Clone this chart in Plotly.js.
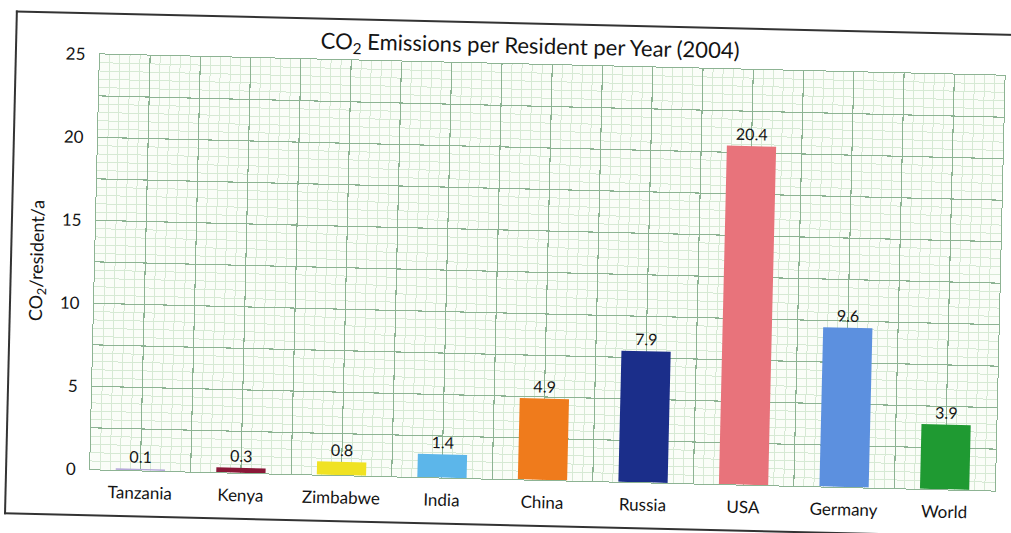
<!DOCTYPE html>
<html>
<head>
<meta charset="utf-8">
<script src="https://cdn.plot.ly/plotly-3.0.1.min.js"></script>
<style>
  html, body { margin: 0; padding: 0; background: #fff; overflow: hidden; }
  #sheet { position: absolute; left: 0; top: 0; width: 1011px; height: 533px;
           transform: rotate(1.35deg); transform-origin: 505px 266px; }
  #frame { position: absolute; left: 10px; top: 22px; width: 1060px; height: 500px;
           border-top: 2px solid #333; border-left: 2px solid #333; border-bottom: 2px solid #333; }
  #chart { position: absolute; left: 0; top: 0; width: 1011px; height: 533px; }
</style>
</head>
<body>
<div id="sheet"><div id="frame"></div><div id="chart"></div></div>
<script>
// CO2 emissions per resident per year, 2004 (tonnes)
const countries = ['Tanzania', 'Kenya', 'Zimbabwe', 'India', 'China', 'Russia', 'USA', 'Germany', 'World'];
const emissions = [0.1, 0.3, 0.8, 1.4, 4.9, 7.9, 20.4, 9.6, 3.9];
const barColors = ['#b5a8da', '#8a1838', '#f0e222', '#5cb6ea', '#ef7b1c', '#1b2e8a', '#e8737b', '#5c90df', '#1f9a32'];
const yTickLabels = ['0', '5', '10', '15', '20', '25'];

const FONT = 'Lato, "Open Sans", sans-serif';
const INK = '#141414';
const MAJOR = '#8db393';
const MINOR = '#d6e9d4';

// graph-paper grid: a heavy line at every bar centre and every slot edge
const xTickVals = [], xTickText = [];
for (let k = -1; k <= 2 * countries.length - 1; k++) {
  xTickVals.push(k / 2);
  xTickText.push(k % 2 === 0 && k >= 0 ? countries[k / 2] : ' ');
}
// heavy horizontal line every 2.5, labelled every 5
const yTickVals = [], yTickText = [];
for (let k = 0; k <= 2 * (yTickLabels.length - 1); k++) {
  yTickVals.push(k * 2.5);
  yTickText.push(k % 2 === 0 ? yTickLabels[k / 2] : ' ');
}

const trace = {
  type: 'bar',
  x: countries.map((c, i) => i),
  y: emissions,
  width: 0.49,
  marker: { color: barColors, line: { width: 0 } },
  text: emissions.map(v => v.toFixed(1)),
  textposition: 'outside',
  cliponaxis: false,
  textfont: { family: FONT, size: 16, color: INK },
  hoverinfo: 'skip'
};

const layout = {
  width: 1011, height: 533,
  margin: { l: 95, r: 11, t: 64, b: 54 },
  paper_bgcolor: 'rgba(0,0,0,0)',
  plot_bgcolor: '#fafdf8',
  showlegend: false,
  font: { family: FONT, color: INK },
  title: {
    text: 'CO<sub>2</sub> Emissions per Resident per Year (2004)',
    font: { family: FONT, size: 22, color: INK },
    x: 0.475, xanchor: 'center', xref: 'paper', y: 0.915, yanchor: 'middle'
  },
  xaxis: {
    range: [-0.5, countries.length - 0.5],
    tickmode: 'array', tickvals: xTickVals, ticktext: xTickText,
    ticks: '', ticklabelstandoff: 7,
    tickfont: { family: FONT, size: 17, color: INK },
    showgrid: true, gridcolor: MAJOR, gridwidth: 1.1,
    minor: { dtick: 0.1, tick0: -0.5, showgrid: true, gridcolor: MINOR, gridwidth: 1 },
    showline: true, linecolor: MAJOR, mirror: true, zeroline: false,
    fixedrange: true
  },
  yaxis: {
    range: [0, 25],
    tickmode: 'array', tickvals: yTickVals, ticktext: yTickText,
    ticks: '', ticklabelstandoff: 10,
    tickfont: { family: FONT, size: 17, color: INK },
    showgrid: true, gridcolor: MAJOR, gridwidth: 1.1,
    minor: { dtick: 0.5, tick0: 0, showgrid: true, gridcolor: MINOR, gridwidth: 1 },
    showline: true, linecolor: MAJOR, mirror: true, zeroline: false,
    title: { text: 'CO<sub>2</sub>/resident/a', font: { family: FONT, size: 18, color: INK }, standoff: 12 },
    fixedrange: true
  }
};

Plotly.newPlot('chart', [trace], layout, { displayModeBar: false, staticPlot: true });
</script>
</body>
</html>
